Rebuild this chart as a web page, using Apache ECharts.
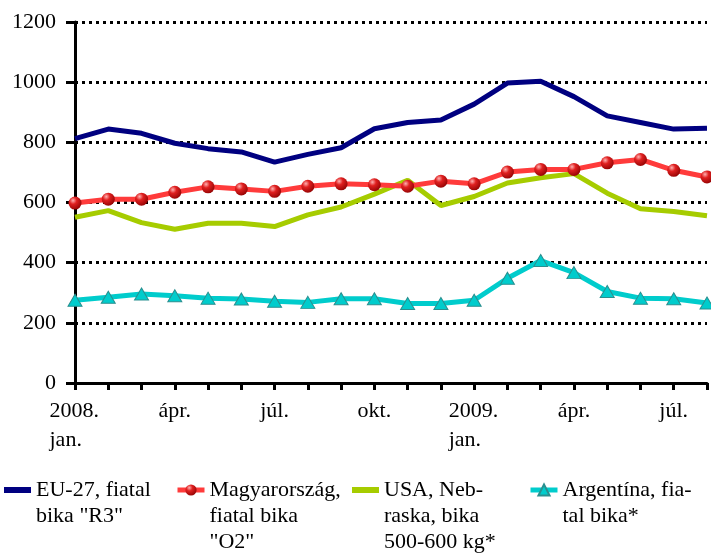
<!DOCTYPE html>
<html>
<head>
<meta charset="utf-8">
<script src="https://cdn.jsdelivr.net/npm/echarts@6/dist/echarts.min.js"></script>
<style>
  html, body { margin: 0; padding: 0; background: #fff; }
  #main { width: 711px; height: 553px; }
</style>
</head>
<body>
<div id="main"></div>
<script>
// hónapok (2008. jan. - 2009. aug.)
var months = ['2008.\njan.', 'febr.', 'márc.', 'ápr.', 'máj.', 'jún.', 'júl.', 'aug.', 'szept.', 'okt.', 'nov.', 'dec.',
              '2009.\njan.', 'febr.', 'márc.', 'ápr.', 'máj.', 'jún.', 'júl.', 'aug.'];
var yTicks = [0, 200, 400, 600, 800, 1000, 1200];

var euNames = 'EU-27, fiatal\nbika "R3"';
var huNames = 'Magyarország,\nfiatal bika\n"O2"';
var usNames = 'USA, Neb-\nraska, bika\n500-600 kg*';
var arNames = 'Argentína, fia-\ntal bika*';

var euValues = [812, 844, 830, 797, 779, 768, 734, 760, 782, 845, 866, 874, 927, 997, 1003, 952, 888, 866, 844, 847];
var huValues = [598, 611, 611, 634, 652, 645, 637, 654, 662, 659, 654, 671, 662, 701, 710, 710, 732, 743, 707, 685];
var usValues = [551, 573, 533, 511, 531, 531, 520, 559, 585, 628, 674, 590, 620, 665, 682, 696, 631, 579, 570, 556];
var arValues = [275, 285, 296, 290, 282, 279, 272, 268, 280, 280, 264, 264, 275, 348, 407, 367, 304, 282, 280, 266];

var font = 'Liberation Serif';
var legendLine = 26;   // legend sor magassága
var legendY = 490;     // első legend sor közepe

var sphere = new echarts.graphic.RadialGradient(0.35, 0.3, 0.8, [
    { offset: 0, color: '#ffb0b0' },
    { offset: 0.35, color: '#e02020' },
    { offset: 1, color: '#8a0000' }
]);

//egy legend elem: az ikon az első sorhoz igazítva (üres sorok elé)
function legendBox(name, left, icon, itemHeight) {
    var lines = name.split('\n').length;
    var total = 2 * lines - 1;
    var item = { name: name };
    if (icon) item.icon = icon;
    return {
        data: [item],
        left: left,
        top: legendY - total * legendLine / 2,
        itemWidth: 27,
        itemHeight: itemHeight,
        itemGap: 0,
        padding: 0,
        lineStyle: { width: 5 },
        formatter: function (n) {
            var pre = '';
            for (var i = 1; i < lines; i++) pre += ' \n';
            return pre + n;
        },
        textStyle: {
            fontFamily: font,
            fontSize: 22,
            color: '#000',
            lineHeight: legendLine
        }
    };
}

var myChart = echarts.init(document.getElementById('main'));

var option = {
    backgroundColor: '#fff',
    animation: false,
    grid: { left: 75, right: 4, top: 22, bottom: 170, containLabel: false },
    legend: [
        legendBox(euNames, 4, 'rect', 6),
        legendBox(huNames, 175, null, 14),
        legendBox(usNames, 352, 'rect', 6),
        legendBox(arNames, 528, null, 14)
    ],
    xAxis: {
        type: 'category',
        data: months,
        boundaryGap: false,
        axisLine: { lineStyle: { color: '#000', width: 3 } },
        axisTick: { interval: 0, length: 7, lineStyle: { color: '#000', width: 3 } },
        axisLabel: {
            interval: 2,
            margin: 14,
            fontFamily: font,
            fontSize: 22,
            color: '#000',
            lineHeight: 29,
            formatter: function (v) {
                var p = v.split('\n');
                if (p.length > 1) {
                    return '{l|' + p[0] + '}\n{l|' + p[1] + '}';
                }
                return v;
            },
            rich: {
                l: { width: 51, align: 'left', fontFamily: font, fontSize: 22, color: '#000', lineHeight: 29 }
            }
        }
    },
    yAxis: {
        type: 'value',
        min: yTicks[0],
        max: yTicks[yTicks.length - 1],
        interval: 200,
        axisLine: { show: true, lineStyle: { color: '#000', width: 3 } },
        axisTick: { show: true, length: 9, lineStyle: { color: '#000', width: 3 } },
        axisLabel: {
            margin: 19, fontFamily: font, fontSize: 22, color: '#000',
            formatter: function (v) { return String(v); }
        },
        splitLine: { show: true, lineStyle: { color: '#000', width: 3, type: [3, 4] } }
    },
    series: [
        {
            name: euNames,
            type: 'line',
            data: euValues,
            symbol: 'none',
            lineStyle: { color: '#000080', width: 5 },
            itemStyle: { color: '#000080' },
            z: 2
        },
        {
            name: usNames,
            type: 'line',
            data: usValues,
            symbol: 'none',
            lineStyle: { color: '#a6cc00', width: 5 },
            itemStyle: { color: '#a6cc00' },
            z: 2
        },
        {
            name: huNames,
            type: 'line',
            data: huValues,
            symbol: 'circle',
            symbolSize: 13,
            lineStyle: { color: '#ff3b3b', width: 5 },
            itemStyle: { color: sphere, borderWidth: 0 },
            z: 3
        },
        {
            name: arNames,
            type: 'line',
            data: arValues,
            symbol: 'triangle',
            symbolSize: [14, 12],
            lineStyle: { color: '#00cccc', width: 5 },
            itemStyle: { color: '#00cccc', borderColor: '#2a8f8f', borderWidth: 1 },
            z: 3
        }
    ]
};

myChart.setOption(option);
</script>
</body>
</html>
